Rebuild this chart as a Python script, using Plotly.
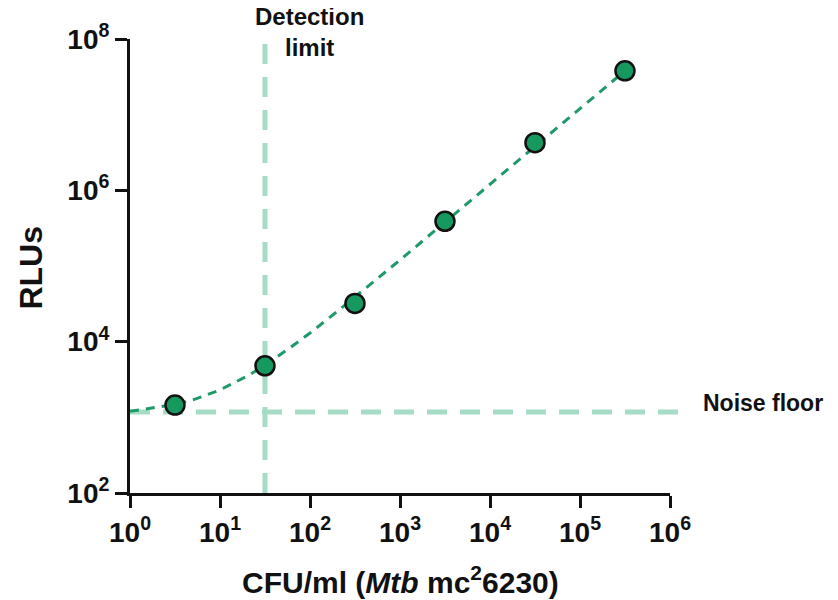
import plotly.graph_objects as go

# Data
cfu = [3.16, 31.6, 316, 3160, 31600, 316000]
rlu = [1450, 4800, 32000, 390000, 4.27e6, 3.8e7]

fit_x = [1, 2, 3.16, 5, 10, 20, 31.6, 60, 100, 200, 316, 1000, 3160, 10000, 31600, 100000, 316000]
fit_y = [1200, 1350, 1480, 1700, 2300, 3500, 4900, 8300, 13000, 25000, 39000, 120000, 380000,
         1.2e6, 3.8e6, 1.2e7, 3.8e7]

detection_limit = 31.6
noise_floor = 1180

x_tickvals = [1, 10, 100, 1000, 10000, 100000, 1000000]
x_ticktext = ["10<sup>0</sup>", "10<sup>1</sup>", "10<sup>2</sup>", "10<sup>3</sup>",
              "10<sup>4</sup>", "10<sup>5</sup>", "10<sup>6</sup>"]
y_tickvals = [100, 10000, 1000000, 100000000]
y_ticktext = ["10<sup>2</sup>", "10<sup>4</sup>", "10<sup>6</sup>", "10<sup>8</sup>"]

FONT = "Liberation Sans, Arial, sans-serif"
INK = "#111111"
DARK_GREEN = "#1e9a68"
LIGHT_GREEN = "#a6dcc6"

fig = go.Figure()

fig.add_trace(go.Scatter(
    x=fit_x, y=fit_y, mode="lines",
    line=dict(color=DARK_GREEN, width=3, dash="9px,7px"),
    hoverinfo="skip", showlegend=False,
))
fig.add_trace(go.Scatter(
    x=cfu, y=rlu, mode="markers",
    marker=dict(size=19, color="#16995f", line=dict(color=INK, width=2.5)),
    cliponaxis=False, showlegend=False,
))

# Reference lines
fig.add_shape(type="line", xref="x", yref="paper",
              x0=detection_limit, x1=detection_limit, y0=0, y1=0.99,
              line=dict(color=LIGHT_GREEN, width=5, dash="20px,13px"), layer="below")
fig.add_shape(type="line", xref="paper", yref="y",
              x0=0, x1=1.015, y0=noise_floor, y1=noise_floor,
              line=dict(color=LIGHT_GREEN, width=5, dash="20px,13px"), layer="below")

fig.add_annotation(text="<b>Detection<br>limit</b>", xref="paper", yref="paper",
                   x=0.333, y=1.015, xanchor="center", yanchor="middle", showarrow=False,
                   font=dict(family=FONT, size=24, color=INK))
fig.add_annotation(text="<b>Noise floor</b>", xref="paper", yref="paper",
                   x=1.058, y=0.198, xanchor="left", yanchor="middle", showarrow=False,
                   font=dict(family=FONT, size=23, color=INK))

# Axis titles
fig.add_annotation(text="<b>CFU/ml (<i>Mtb</i> mc<sup>2</sup>6230)</b>", xref="paper", yref="paper",
                   x=0.5, y=-0.192, xanchor="center", yanchor="middle", showarrow=False,
                   font=dict(family=FONT, size=30, color=INK))
fig.add_annotation(text="<b>RLUs</b>", xref="paper", yref="paper", textangle=-90,
                   x=-0.183, y=0.497, xanchor="center", yanchor="middle", showarrow=False,
                   font=dict(family=FONT, size=32, color=INK))

axis_common = dict(
    showgrid=False, zeroline=False, showline=True, linecolor=INK, linewidth=3,
    ticks="outside", ticklen=12, tickwidth=3, tickcolor=INK, automargin=False,
    tickfont=dict(family=FONT, size=28, color=INK, weight="bold"),
)

fig.update_xaxes(type="log", range=[0, 6], tickvals=x_tickvals, ticktext=x_ticktext, **axis_common)
fig.update_yaxes(type="log", range=[2, 8], tickvals=y_tickvals, ticktext=y_ticktext, **axis_common)

# The page body adds an 8px offset, so the figure is drawn 8px smaller
fig.update_layout(
    width=830, height=592,
    margin=dict(l=122, r=168, t=31, b=107, autoexpand=False),
    plot_bgcolor="white", paper_bgcolor="white",
    font=dict(family=FONT, color=INK),
)

fig.write_html("out.html")
